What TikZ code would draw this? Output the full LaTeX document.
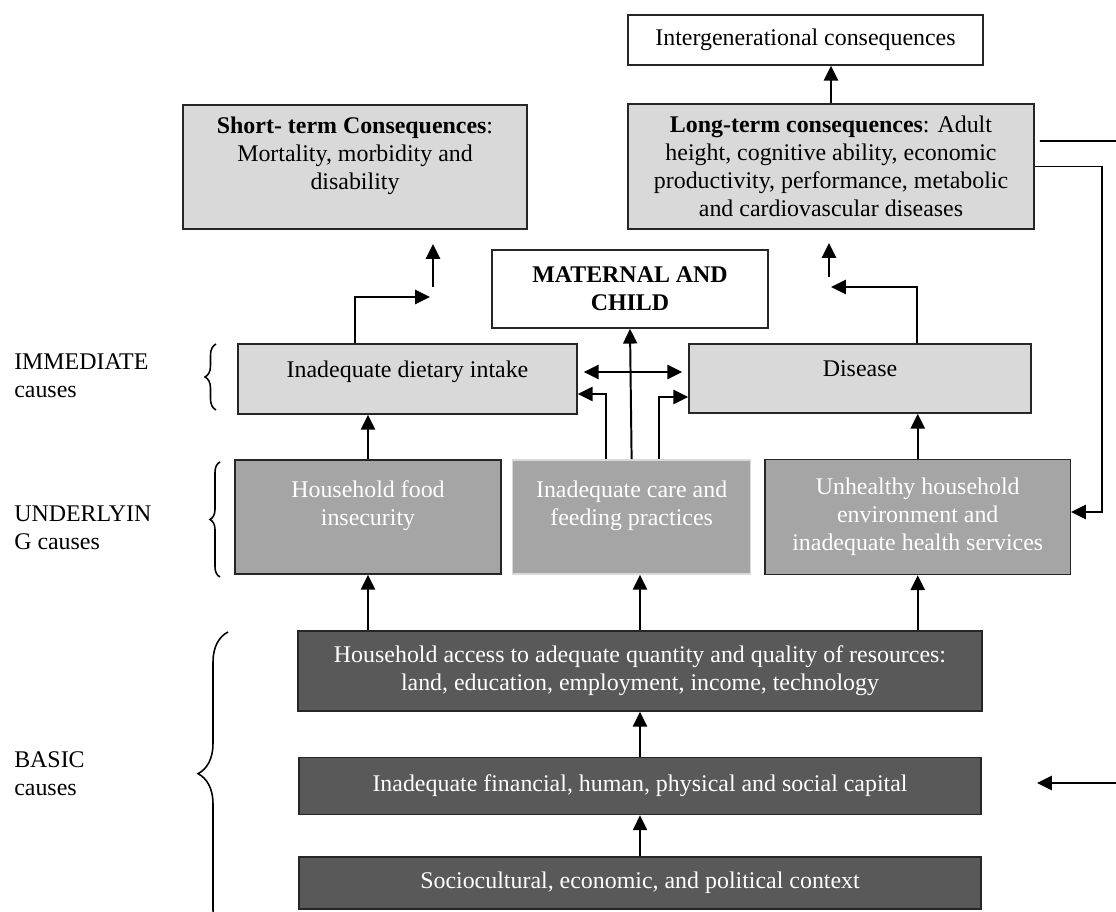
\documentclass[tikz,border=0pt]{standalone}
\usepackage{fontspec}
\setmainfont{Liberation Serif}
\usepackage{xcolor}
\usepackage{tikz}
\usetikzlibrary{positioning,arrows.meta,decorations.pathreplacing}

\definecolor{palegray}{HTML}{D9D9D9}
\definecolor{midgray}{HTML}{A5A5A5}
\definecolor{darkgray}{HTML}{595959}

\begin{document}
\begin{tikzpicture}[x=0.025cm, y=-0.025cm, font=\fontsize{17}{19.9}\selectfont,
		>={Triangle[length=10.5pt, width=10pt]},
		box/.style={draw=black!85, line width=1.1pt, align=center, inner sep=2pt},
		pale/.style={box, fill=palegray},
		mid/.style={box, fill=midgray, text=white},
		dark/.style={box, fill=darkgray, text=white},
		arr/.style={line width=1.4pt, ->},
		both/.style={line width=1.4pt, <->},
		brace/.style={line width=1.1pt, decorate, decoration={brace, amplitude=#1}},
		lbl/.style={anchor=west, align=left, inner sep=0pt}]
		\useasboundingbox (0,0) rectangle (1116,912);
		% consequences
		\node[box, fill=white, minimum width=8.875cm, minimum height=1.25cm] (inter) at (805.5,40) {Intergenerational consequences};
		\node[pale, minimum width=10.15cm, minimum height=3.125cm] (longterm) at (831,166.5) {\textbf{Long-term consequences}: Adult\\height, cognitive ability, economic\\productivity, performance, metabolic\\and cardiovascular diseases};
		\node[pale, minimum width=8.6cm, minimum height=3.1cm] (shortterm) at (355,167) {\textbf{Short- term Consequences}:\\Mortality, morbidity and\\disability\\\mbox{}};
		\node[box, fill=white, minimum width=6.9cm, minimum height=1.95cm] (maternal) at (630,289) {\textbf{MATERNAL AND}\\\textbf{CHILD}};
		% immediate causes
		\node[pale, minimum width=8.475cm, minimum height=1.75cm, text depth=0.5cm] (diet) at (407.5,379) {Inadequate dietary intake};
		\node[pale, minimum width=8.55cm, minimum height=1.725cm, text depth=0.5cm] (disease) at (860,378.5) {Disease};
		% underlying causes
		\node[mid, minimum width=6.65cm, minimum height=2.85cm] (food) at (368,517) {Household food\\insecurity\\\mbox{}};
		\node[mid, draw=black!15, minimum width=5.95cm, minimum height=2.85cm, right=0.25cm of food] (care) {Inadequate care and\\feeding practices\\\mbox{}};
		\node[mid, minimum width=7.625cm, minimum height=2.875cm, right=0.325cm of care] (unhealthy) {Unhealthy household\\environment and\\inadequate health services};
		% basic causes
		\node[dark, minimum width=17.1cm, minimum height=2cm] (access) at (640,671) {Household access to adequate quantity and quality of resources:\\land, education, employment, income, technology};
		\node[dark, minimum width=17.05cm, minimum height=1.425cm, below=1.125cm of access] (capital) {Inadequate financial, human, physical and social capital};
		\node[dark, minimum width=17.05cm, minimum height=1.3cm, below=1.025cm of capital] (context) {Sociocultural, economic, and political context};
		% level labels
		\node[lbl] (immediate) at (14,376) {IMMEDIATE\\causes};
		\node[lbl] (underlying) at (14,528) {UNDERLYIN\\G causes};
		\node[lbl] (basic) at (14,773.5) {BASIC\\causes};
		\draw[brace=0.275cm] (216,410) -- (216,344);
		\draw[brace=0.25cm] (220,577) -- (220,462);
		\draw[brace=0.75cm, decoration={aspect=0.54}] (228,940) -- (228,632);
		% arrows
		\draw[arr] (longterm.north) -- (longterm.north |- inter.south);
		\coordinate (st1) at (430,297);
		\coordinate (st2) at (433,287);
		\coordinate (st3) at (433,244);
		\draw[arr] ([xshift=-1.3125cm]diet.north) |- (st1);
		\draw[arr] (st2) -- (st3);
		\coordinate (lt1) at (831,287);
		\coordinate (lt2) at (829,277);
		\coordinate (lt3) at (829,243);
		\draw[arr] ([xshift=1.425cm]disease.north) |- (lt1);
		\draw[arr] (lt2) -- (lt3);
		\draw[arr] (care.north) -- (maternal.south);
		\draw[arr] ([xshift=-0.65cm]care.north) |- ([yshift=-0.375cm]diet.east);
		\draw[arr] ([xshift=0.675cm]care.north) |- ([yshift=-0.4625cm]disease.west);
		\draw[both, shorten <=0.15cm, shorten >=0.15cm] ([yshift=0.175cm]diet.east) -- ([yshift=0.175cm]diet.east -| disease.west);
		\draw[arr] (food.north) -- (food.north |- diet.south);
		\draw[arr] (unhealthy.north) -- (unhealthy.north |- disease.south);
		\draw[arr] (food.south |- access.north) -- (food.south);
		\draw[arr] (access.north) -- (access.north |- care.south);
		\draw[arr] (unhealthy.south |- access.north) -- (unhealthy.south);
		\draw[arr] (capital.north) -- (access.south);
		\draw[arr] (context.north) -- (capital.south);
		% feedback on the right
		\draw[arr] (longterm.east) -- ++(67,0) |- ([yshift=0.125cm]unhealthy.east);
		\coordinate (edge1) at (1116,141);
		\draw[line width=1.4pt] ([xshift=0.125cm, yshift=0.6375cm]longterm.east) -- (edge1);
		\coordinate (edge2) at (1116,783);
		\draw[arr] (edge2) -- ++(-79,0);
	\end{tikzpicture}
\end{document}
